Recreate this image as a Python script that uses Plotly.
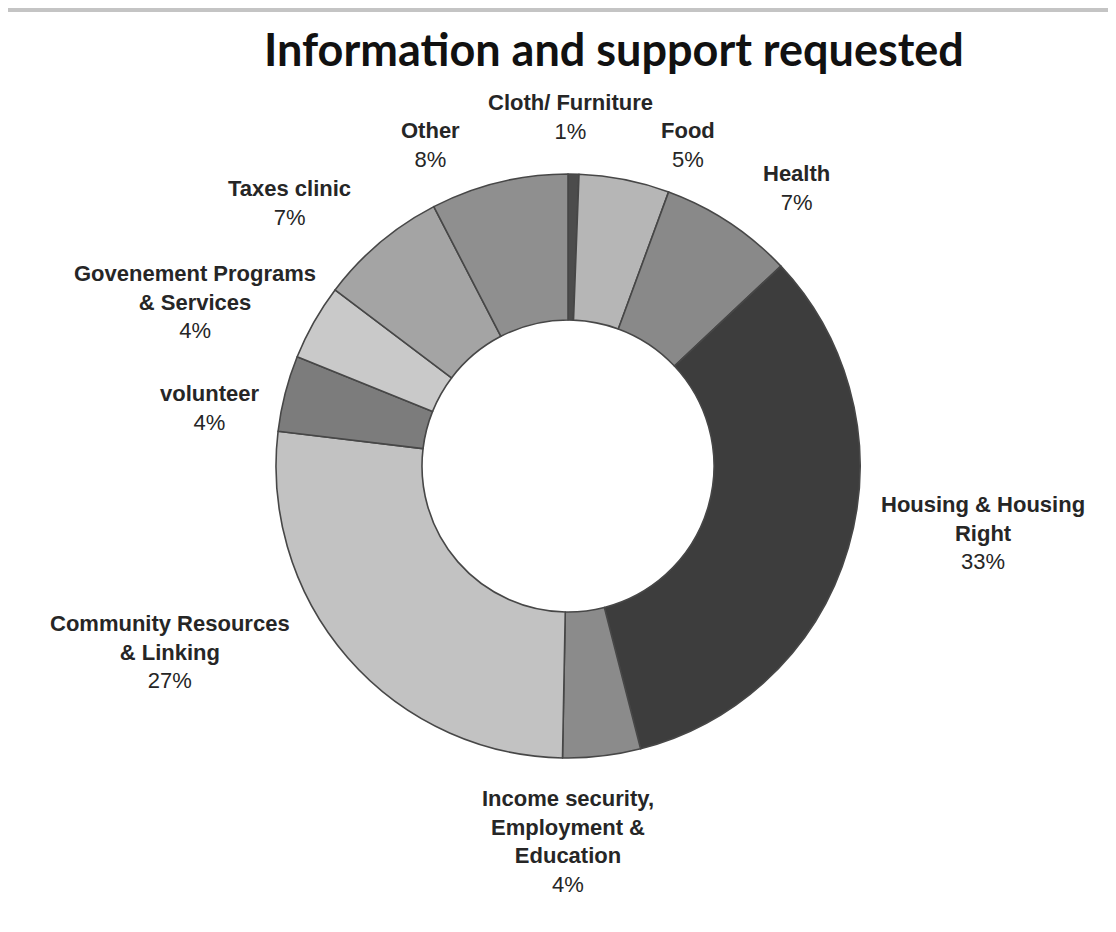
import math
import plotly.graph_objects as go

title_text = "Information and support requested"
categories = [
    "Cloth/ Furniture",
    "Food",
    "Health",
    "Housing & Housing<br>Right",
    "Income security,<br>Employment &<br>Education",
    "Community Resources<br>& Linking",
    "volunteer",
    "Govenement Programs<br>& Services",
    "Taxes clinic",
    "Other",
]
values = [0.6, 5.0, 7.4, 33.0, 4.3, 26.6, 4.2, 4.2, 7.1, 7.6]
colors = ["#4c4c4c", "#b6b6b6", "#898989", "#3d3d3d", "#8b8b8b",
          "#c2c2c2", "#7c7c7c", "#c9c9c9", "#a4a4a4", "#8f8f8f"]

# label placement (layout only): distance of label centre from pie centre (px)
# and angular nudge (deg) from the slice's mid-angle
label_dist = [349, 343, 360, 420, 376, 439, 363, 407, 383, 349]
label_nudge = [-0.6, 9.3, 6.0, -7.0, 6.7, 16.0, -5.2, -5.8, -6.4, -9.6]

W, H = 1116, 932
OFF = 8  # page body margin
cx, cy, R = 568 - OFF, 466 - OFF, 292

fig = go.Figure(go.Pie(
    labels=categories,
    values=values,
    sort=False,
    direction="clockwise",
    rotation=0,
    hole=0.5,
    marker=dict(colors=colors, line=dict(color="#474747", width=1.6)),
    textinfo="none",
    showlegend=False,
    domain=dict(x=[(cx - R) / W, (cx + R) / W], y=[(H - cy - R) / H, (H - cy + R) / H]),
))

total = sum(values)
annotations = []
cum = 0.0
for lab, v, d, nd in zip(categories, values, label_dist, label_nudge):
    mid = (cum + v / 2) / total * 360.0
    cum += v
    ang = math.radians(mid + nd)
    px = cx + d * math.sin(ang)
    py = cy - d * math.cos(ang)
    annotations.append(dict(
        xref="paper", yref="paper", x=px / W, y=1 - py / H,
        xanchor="center", yanchor="middle", align="center", showarrow=False,
        text="<b>" + lab + "</b><br>" + f"{round(v / total * 100)}%",
        font=dict(family="Liberation Sans Narrow, Liberation Sans, Arial", size=22, color="#262626"),
    ))

fig.update_layout(
    width=W, height=H,
    margin=dict(l=0, r=0, t=0, b=0),
    paper_bgcolor="white",
    title=dict(text="<b>" + title_text + "</b>", x=(614 - OFF) / W, xanchor="center",
               y=1 - (50 - OFF) / H, yanchor="middle",
               font=dict(family="Lato, Open Sans, Arial", size=45, color="#111111")),
    annotations=annotations,
    shapes=[dict(type="line", xref="paper", yref="paper", x0=0, x1=1,
                 y0=1 - (10 - OFF) / H, y1=1 - (10 - OFF) / H,
                 line=dict(color="#c4c4c4", width=4))],
)

fig.write_html("out.html")
